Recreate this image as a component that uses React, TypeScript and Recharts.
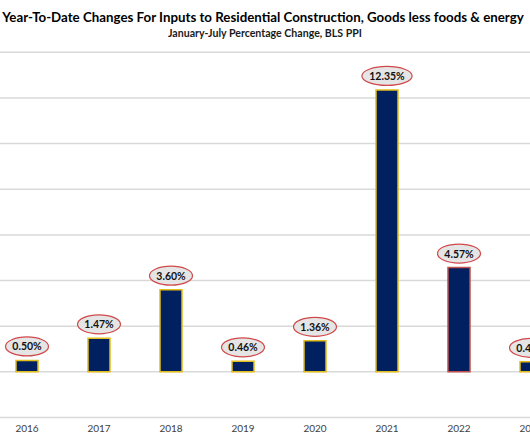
import { Bar, BarChart, CartesianGrid, Cell, LabelList, XAxis, YAxis } from "recharts";

const YEARS = ["2016", "2017", "2018", "2019", "2020", "2021", "2022", "2023"];
const CHANGES = [0.5, 1.47, 3.6, 0.46, 1.36, 12.35, 4.57, 0.44];
const EDGE_COLORS = ["#e2bd1a", "#e2bd1a", "#e2bd1a", "#e2bd1a", "#e2bd1a", "#e2bd1a", "#c0504d", "#e2bd1a"];
const Y_TICKS = [-2, 0, 2, 4, 6, 8, 10, 12, 14];

const TITLE = "Year-To-Date Changes For Inputs to Residential Construction, Goods less foods & energy";
const SUBTITLE = "January-July Percentage Change, BLS PPI";

const FONT = "Lato, 'Open Sans', sans-serif";

const data = YEARS.map((year, i) => ({ year, value: CHANGES[i] }));

function BubbleLabel(props: any) {
  const { x, y, width, value } = props;
  const text = `${Number(value).toFixed(2)}%`;
  const cx = Number(x) + Number(width) / 2;
  const cy = Number(y) - 14;
  const rx = text.length * 3.6 + 3.5;

  return (
    <g>
      <ellipse cx={cx} cy={cy} rx={rx} ry={9.5} fill="#e6e5e5" stroke="#d0484a" strokeWidth={1.2} />
      <text
        x={cx}
        y={cy}
        textAnchor="middle"
        dominantBaseline="central"
        fontFamily={FONT}
        fontWeight={700}
        fontSize={10.5}
        fill="#111"
      >
        {text}
      </text>
    </g>
  );
}

export default function App() {
  return (
    <div style={{ position: "absolute", left: 0, top: 0, width: 530, height: 442, overflow: "hidden", background: "#fff" }}>
      <svg width={530} height={50} style={{ position: "absolute", left: 0, top: 0 }}>
        <text x={263} y={21.7} textAnchor="middle" fontFamily={FONT} fontWeight={700} fontSize={13.3} fill="#000">
          {TITLE}
        </text>
        <text x={265} y={37.3} textAnchor="middle" fontFamily={FONT} fontWeight={700} fontSize={10.6} fill="#1a1a1a">
          {SUBTITLE}
        </text>
      </svg>

      <div style={{ position: "absolute", left: -8.7, top: 0 }}>
        <BarChart width={576} height={442} data={data} margin={{ top: 52.3, right: 0, bottom: 0, left: 0 }} barSize={22}>
          <CartesianGrid vertical={false} stroke="#d9d9d9" strokeWidth={1.5} />
          <XAxis
            dataKey="year"
            height={24.5}
            axisLine={false}
            tickLine={false}
            tickSize={0}
            tickMargin={7}
            tick={{ fill: "#404040", fontSize: 10, fontFamily: FONT }}
            interval={0}
          />
          <YAxis hide domain={[-2, 14]} ticks={Y_TICKS} />
          <Bar dataKey="value" fill="#002060" strokeWidth={1.5} isAnimationActive={false}>
            {data.map((d, i) => (
              <Cell key={d.year} stroke={EDGE_COLORS[i]} />
            ))}
            <LabelList dataKey="value" content={BubbleLabel} />
          </Bar>
        </BarChart>
      </div>
    </div>
  );
}
